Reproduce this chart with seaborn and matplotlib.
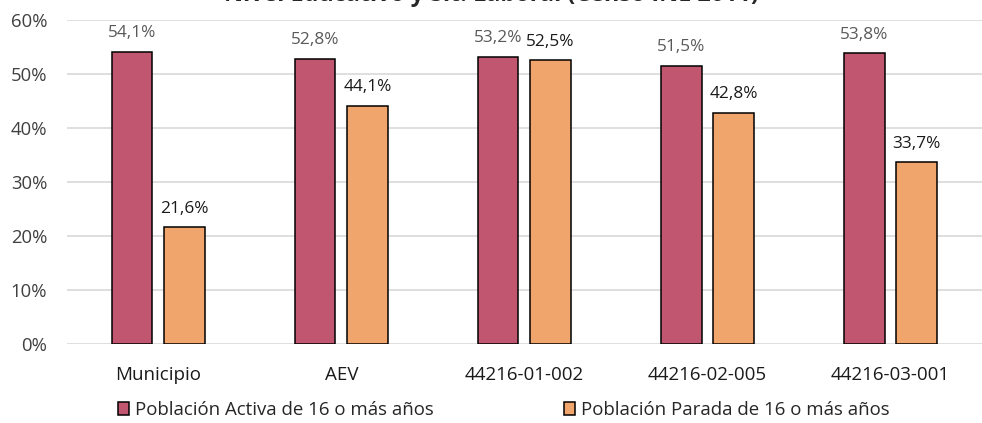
import pandas as pd
import matplotlib.pyplot as plt
import seaborn as sns

# Data
categorias = ['Municipio', 'AEV', '44216-01-002', '44216-02-005', '44216-03-001']
activa = [54.1, 52.8, 53.2, 51.5, 53.8]
parada = [21.6, 44.1, 52.5, 42.8, 33.7]
series = ['Población Activa de 16 o más años', 'Población Parada de 16 o más años']

df = pd.DataFrame({
    'cat': categorias * 2,
    'valor': activa + parada,
    'serie': [series[0]] * 5 + [series[1]] * 5,
})

sns.set_style("white")
plt.rcParams['font.family'] = ['Open Sans', 'DejaVu Sans']

fig = plt.figure(figsize=(9.82, 4.23), dpi=100)
ax = fig.add_axes([0.068, 0.187, 0.932, 0.766])

colores = ['#C0566F', '#F0A56D']
sns.barplot(data=df, x='cat', y='valor', hue='serie', palette=colores,
            width=0.573, gap=0.226, edgecolor='black', linewidth=1.1,
            saturation=1, ax=ax)

# Value labels
for cont, col in zip(ax.containers, ['#595959', '#1a1a1a']):
    for bar in cont:
        h = bar.get_height()
        ax.text(bar.get_x() + bar.get_width() / 2, h + 3.4,
                f'{h:.1f}%'.replace('.', ','), ha='center', va='center',
                fontsize=12.4, color=col)

ax.set_ylim(0, 60)
ax.set_xlim(-0.5, 4.5)
ax.set_yticks(range(0, 61, 10))
ax.set_yticklabels([f'{v}%' for v in range(0, 61, 10)])
ax.yaxis.grid(True, color='#D9D9D9', linewidth=1.2)
ax.set_axisbelow(True)
for s in ax.spines.values():
    s.set_visible(False)
ax.set_xlabel('')
ax.set_ylabel('')
ax.tick_params(axis='y', labelsize=13.3, colors='#404040', pad=14, length=0)
ax.tick_params(axis='x', labelsize=13.5, colors='#1a1a1a', pad=16, length=0)

handles, labels = ax.get_legend_handles_labels()
ax.legend_.remove()
fig.legend(handles, labels, loc='center', bbox_to_anchor=(0.513, 0.031),
           ncol=2, frameon=False, fontsize=13.4, handlelength=0.6,
           handleheight=0.7, handletextpad=0.3, columnspacing=7.0)

fig.text(0.5, 1.012, 'Nivel Educativo y Sit. Laboral (Censo INE 2011)',
         ha='center', va='center', fontsize=16.8, fontweight='bold')

fig.savefig('out.png', dpi=100)
